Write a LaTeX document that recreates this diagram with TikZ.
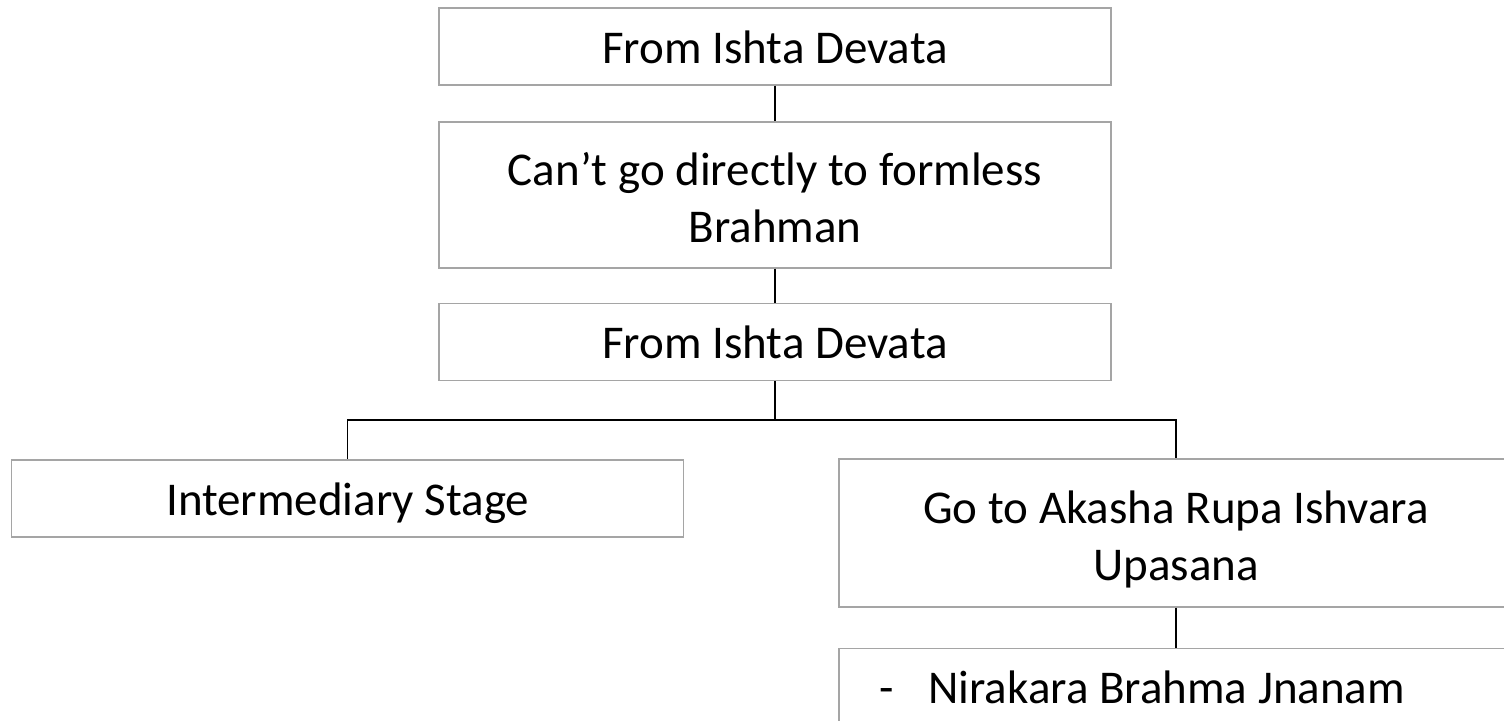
\documentclass[tikz,border=0pt]{standalone}
\usepackage{fontspec}
\setmainfont{Carlito}
\begin{document}
\begin{tikzpicture}[x=1pt,y=1pt,
  box/.style={draw=boxgray, line width=1.3pt, fill=white, inner sep=0pt,
    minimum width=672pt, minimum height=77pt, align=center,
    font=\fontsize{47}{57}\selectfont, text height=44.6pt, text depth=11.6pt},
  twolines/.style={text height=105.6pt, text depth=11.6pt},
  link/.style={draw=black, line width=1.2pt}]
\definecolor{boxgray}{HTML}{A5A5A5}
\useasboundingbox (0,0) rectangle (1504,-720);
\clip (0,0) rectangle (1504,-720);
\fill[white] (0,0) rectangle (1504,-720);

% central column
\node[box] (top) at (775,-46.5) {From Ishta Devata};
\node[box, twolines, minimum height=146pt] (cant) at (775,-195) {Can’t go directly to formless\\Brahman};
\node[box] (ishta) at (775,-342) {From Ishta Devata};

% two branches
\node[box] (inter) at (347.7,-498.5) {Intermediary Stage};
\node[box, twolines, minimum width=674pt, minimum height=148pt] (akasha) at (1176,-533)
  {Go to Akasha Rupa Ishvara\\Upasana};
\node[box, minimum width=674pt, anchor=north, text width=594pt, inner xsep=40pt,
  align=flush left] (nirakara) at (1176,-648) {-\hspace{35pt}Nirakara Brahma Jnanam};

% connectors
\coordinate (split) at (775,-420);
\draw[link] (top.south) -- (cant.north);
\draw[link] (cant.south) -- (ishta.north);
\draw[link] (ishta.south) -- (split);
\draw[link] (split) -| (inter.north);
\draw[link] (split) -| (akasha.north);
\draw[link] (akasha.south) -- (nirakara.north);
\end{tikzpicture}
\end{document}
